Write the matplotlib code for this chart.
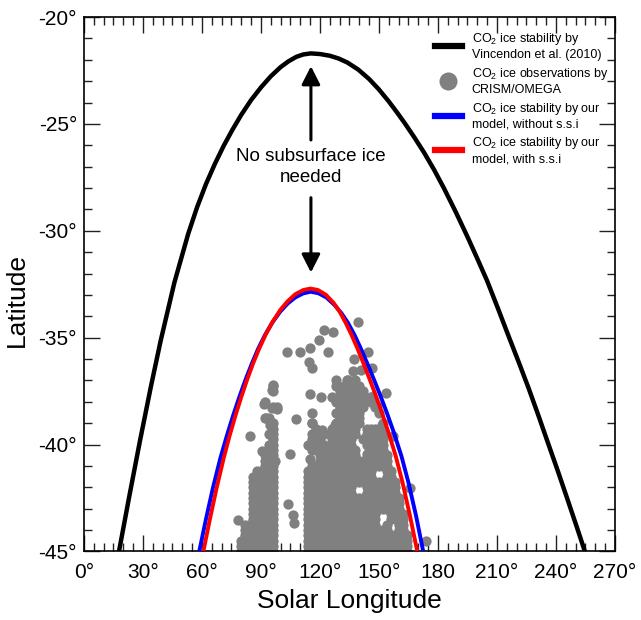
import matplotlib.pyplot as plt
from matplotlib.lines import Line2D
from matplotlib.ticker import MultipleLocator

plt.rcParams['font.family'] = ['Liberation Sans', 'DejaVu Sans']
plt.rcParams['mathtext.fontset'] = 'custom'
plt.rcParams['mathtext.rm'] = 'Liberation Sans'

# CO2 ice stability limit by Vincendon et al. (2010)
vinc_lon = [17.8, 23.0, 28.4, 34.0, 39.0, 46.0, 53.0, 57.5, 62.0, 66.5, 71.0, 75.5, 80.0, 85.0,
            90.0, 95.0, 100.0, 104.0, 108.0, 111.5, 115.3, 120.0, 125.0, 129.5, 134.0, 139.5,
            145.0, 150.0, 155.0, 159.0, 163.0, 168.0, 173.0, 178.0, 183.0, 189.0, 195.0, 200.0,
            205.0, 210.5, 216.0, 221.0, 226.0, 231.0, 236.0, 241.0, 246.0, 250.5, 254.7]
vinc_lat = [-45.0, -42.44, -39.86, -37.3, -35.14, -32.41, -30.14, -28.9, -27.82, -26.88, -26.03, -25.27, -24.57, -23.88,
            -23.29, -22.77, -22.34, -22.07, -21.86, -21.75, -21.7, -21.73, -21.81, -21.94, -22.13, -22.46,
            -22.9, -23.39, -23.95, -24.44, -24.95, -25.63, -26.35, -27.14, -28.0, -29.11, -30.28, -31.3,
            -32.34, -33.63, -34.95, -36.13, -37.34, -38.62, -39.94, -41.25, -42.6, -43.83, -45.0]

# our model, without subsurface ice
nossi_lon = [58.6, 62.0, 65.6, 69.3, 72.6, 75.8, 79.0, 82.2, 85.4, 88.5, 92.0, 95.7, 99.8, 103.6,
             107.4, 111.4, 115.2, 119.2, 123.3, 127.5, 130.9, 134.2, 137.5, 140.7, 143.9, 147.1,
             150.3, 154.0, 157.4, 161.4, 165.0, 168.9, 172.5]
nossi_lat = [-45.0, -43.5, -42.01, -40.65, -39.6, -38.65, -37.77, -36.95, -36.2, -35.53, -34.88, -34.3, -33.78, -33.4,
             -33.12, -32.93, -32.85, -32.92, -33.12, -33.48, -33.85, -34.3, -34.86, -35.49, -36.17, -36.88,
             -37.61, -38.51, -39.39, -40.53, -41.78, -43.35, -45.0]

# our model, with subsurface ice
ssi_lon = [60.7, 64.0, 67.5, 71.0, 74.0, 77.0, 80.0, 83.0, 86.0, 89.0, 92.4, 96.0, 100.0, 103.7,
           107.4, 111.5, 115.2, 119.0, 123.0, 127.0, 130.1, 133.0, 136.0, 139.0, 142.0, 145.0,
           148.0, 151.5, 154.7, 158.5, 162.0, 165.8, 169.5]
ssi_lat = [-45.0, -43.5, -42.01, -40.65, -39.6, -38.65, -37.77, -36.95, -36.2, -35.53, -34.85, -34.24, -33.68, -33.28,
           -32.97, -32.77, -32.7, -32.77, -32.99, -33.38, -33.8, -34.29, -34.86, -35.49, -36.17, -36.88,
           -37.61, -38.51, -39.39, -40.53, -41.78, -43.35, -45.0]

# CRISM/OMEGA detections: isolated points
obs_lon = [139.1, 122.0, 126.5, 119.3, 114.7, 103.4, 109.8, 124.2, 144.2, 114.6, 116.1, 137.4,
           140.8, 136.9, 146.6, 128.0, 133.5, 96.3, 95.4, 114.9, 120.3, 127.6, 91.7, 95.4,
           98.0, 153.5, 145.9, 148.8, 92.5, 107.6, 115.7, 133.0, 94.6, 115.7, 127.6, 151.3,
           84.4, 95.4, 118.3, 120.8, 157.3, 90.3, 104.7, 131.0, 143.7, 148.8, 97.1, 114.9,
           124.2, 151.3, 154.7, 165.7, 103.9, 106.4, 106.8, 78.5, 173.9]
obs_lat = [-34.28, -34.62, -34.73, -35.09, -35.49, -35.67, -35.67, -35.67, -35.67, -36.15, -36.41, -35.99,
           -36.52, -36.57, -36.41, -36.96, -36.96, -37.19, -37.43, -37.63, -37.77, -37.86, -38.08, -38.28,
           -38.33, -37.58, -37.78, -38.2, -38.75, -38.78, -38.52, -38.67, -39.06, -39.0, -39.06, -39.1,
           -39.58, -39.61, -39.45, -39.3, -39.61, -40.31, -40.46, -39.92, -40.46, -40.31, -40.77, -40.67,
           -40.54, -40.77, -41.24, -42.02, -42.8, -43.27, -43.69, -43.53, -44.51]

# CRISM/OMEGA detections: dense clusters, one '#' per point
# columns: lon 76, 78, ... 174 ; rows: lat -37.0, -37.25, ... -45.0
map_lon0, map_dlon = 76.0, 2.0
map_lat0, map_dlat = -37.0, -0.25
obs_map = [
    '.......... .......... .........# .#........ ..........',
    '.......... #......... ......#.## ###....... ..........',
    '.......... #......... .......### ####...... ..........',
    '.......... .......... .....#.### ####.#.... ..........',
    '........#. .......... ......#### ####.#.... ..........',
    '.......... ##........ .......### ####..#... ..........',
    '.......... .......... ......#### ###....#.. ..........',
    '........## .......... .......### ###....... ..........',
    '.......... #......... #.....#### ###.....#. ..........',
    '.......... #......... .#...##### ##..####.. ..........',
    '.........# #......... ####.##### ##..#####. ..........',
    '.......... #......... ###..##### #..######. ..........',
    '.........# #........# ####.##### #...#####. ..........',
    '.........# #......... ########## ##...####. ..........',
    '........## #......... ..######## ##...##### ..........',
    '........## #......... ..######## ########## ..........',
    '........## #......... ########## ########## ..........',
    '......#### #........# ########## ######...# #.........',
    '.....##### #........# ########## ######...# #.........',
    '.....##### #........# ########## ########## ##........',
    '.....##### #........# ########## #...###### ##........',
    '.....##### #........# ########## #...###### ##........',
    '.....##### #........# ########## ########## ###.......',
    '.....##### #........# ########## ########## ###.......',
    '.....##### #........# ########## ########## ###.......',
    '.....##### #........# ########## #######... ####......',
    '.....##### #........# ########## #######... ####......',
    '...####### #........# ########## #######..# ..##......',
    '...####### #........# ########## ########## ..##......',
    '...####### #........# ########## ########## #####.....',
    '..######## #........# ########## ########## #####.....',
    '..######## #........# ########## ########## #####.....',
    '..######## #........# ########## ########## #####.....',
]

xtick_vals = [0, 30, 60, 90, 120, 150, 180, 210, 240, 270]
xtick_labels = ['0°', '30°', '60°', '90°', '120°', '150°', '180', '210°', '240°', '270°']
ytick_vals = [-45, -40, -35, -30, -25, -20]
ytick_labels = ['-45°', '-40°', '-35°', '-30°', '-25°', '-20°']

legend_labels = [
    'CO$_\\mathregular{2}$ ice stability by\nVincendon et al. (2010)',
    'CO$_\\mathregular{2}$ ice observations by\nCRISM/OMEGA',
    'CO$_\\mathregular{2}$ ice stability by our\nmodel, without s.s.i',
    'CO$_\\mathregular{2}$ ice stability by our\nmodel, with s.s.i',
]


def main():
    fig = plt.figure(figsize=(6.41, 6.2), dpi=100)
    ax = fig.add_axes([0.131, 0.1105, 0.8284, 0.862])

    map_lon, map_lat = [], []
    for r, row in enumerate(obs_map):
        for i, c in enumerate(row.replace(' ', '')):
            if c == '#':
                map_lon.append(map_lon0 + map_dlon * i)
                map_lat.append(map_lat0 + map_dlat * r)

    gray = '#808080'
    ax.scatter(map_lon, map_lat, s=55, color=gray, linewidths=0, zorder=2)
    ax.scatter(obs_lon, obs_lat, s=55, color=gray, linewidths=0, zorder=2)

    ax.plot(vinc_lon, vinc_lat, color='black', lw=3.2, zorder=3)
    ax.plot(nossi_lon, nossi_lat, color='#0000ff', lw=2.8, zorder=3)
    ax.plot(ssi_lon, ssi_lat, color='#ff0000', lw=2.8, zorder=4)

    # double arrow with the label in the middle
    arrow_lon = 115.4
    arrow_kw = dict(arrowstyle='-|>,head_length=0.55,head_width=0.28', lw=2.2, color='black',
                    shrinkA=0, shrinkB=0, mutation_scale=20)
    ax.annotate('', xy=(arrow_lon, -22.3), xytext=(arrow_lon, -25.75), arrowprops=arrow_kw)
    ax.annotate('', xy=(arrow_lon, -31.95), xytext=(arrow_lon, -28.45), arrowprops=arrow_kw)
    ax.text(arrow_lon, -27.0, 'No subsurface ice\nneeded', ha='center', va='center',
            fontsize=13.5, linespacing=1.3)

    ax.set_xlim(0, 270)
    ax.set_ylim(-45, -20)
    ax.set_xticks(xtick_vals)
    ax.set_xticklabels(xtick_labels)
    ax.set_yticks(ytick_vals)
    ax.set_yticklabels(ytick_labels)
    ax.xaxis.set_minor_locator(MultipleLocator(5))
    ax.yaxis.set_minor_locator(MultipleLocator(1))
    ax.tick_params(which='both', direction='in', top=True, right=True, width=1.0, color='#222222')
    ax.tick_params(which='major', length=11.5, labelsize=15)
    ax.tick_params(which='minor', length=5.8)
    ax.tick_params(axis='x', which='major', pad=8)
    ax.tick_params(axis='y', which='major', pad=5)
    for sp in ax.spines.values():
        sp.set_linewidth(1.2)

    ax.set_xlabel('Solar Longitude', fontsize=19, labelpad=5)
    ax.set_ylabel('Latitude', fontsize=19)
    ax.yaxis.set_label_coords(-0.104, 0.47)

    handles = [
        Line2D([], [], color='black', lw=4.5),
        Line2D([], [], marker='o', ls='', color=gray, markersize=13, markeredgewidth=0),
        Line2D([], [], color='#0000ff', lw=4.5),
        Line2D([], [], color='#ff0000', lw=4.5),
    ]
    ax.legend(handles, legend_labels, loc='upper right', bbox_to_anchor=(0.987, 0.974),
              frameon=False, fontsize=9, borderpad=0, borderaxespad=0,
              handlelength=2.2, handletextpad=0.75, labelspacing=0.4)

    plt.savefig('out.png', dpi=100)


if __name__ == '__main__':
    main()
